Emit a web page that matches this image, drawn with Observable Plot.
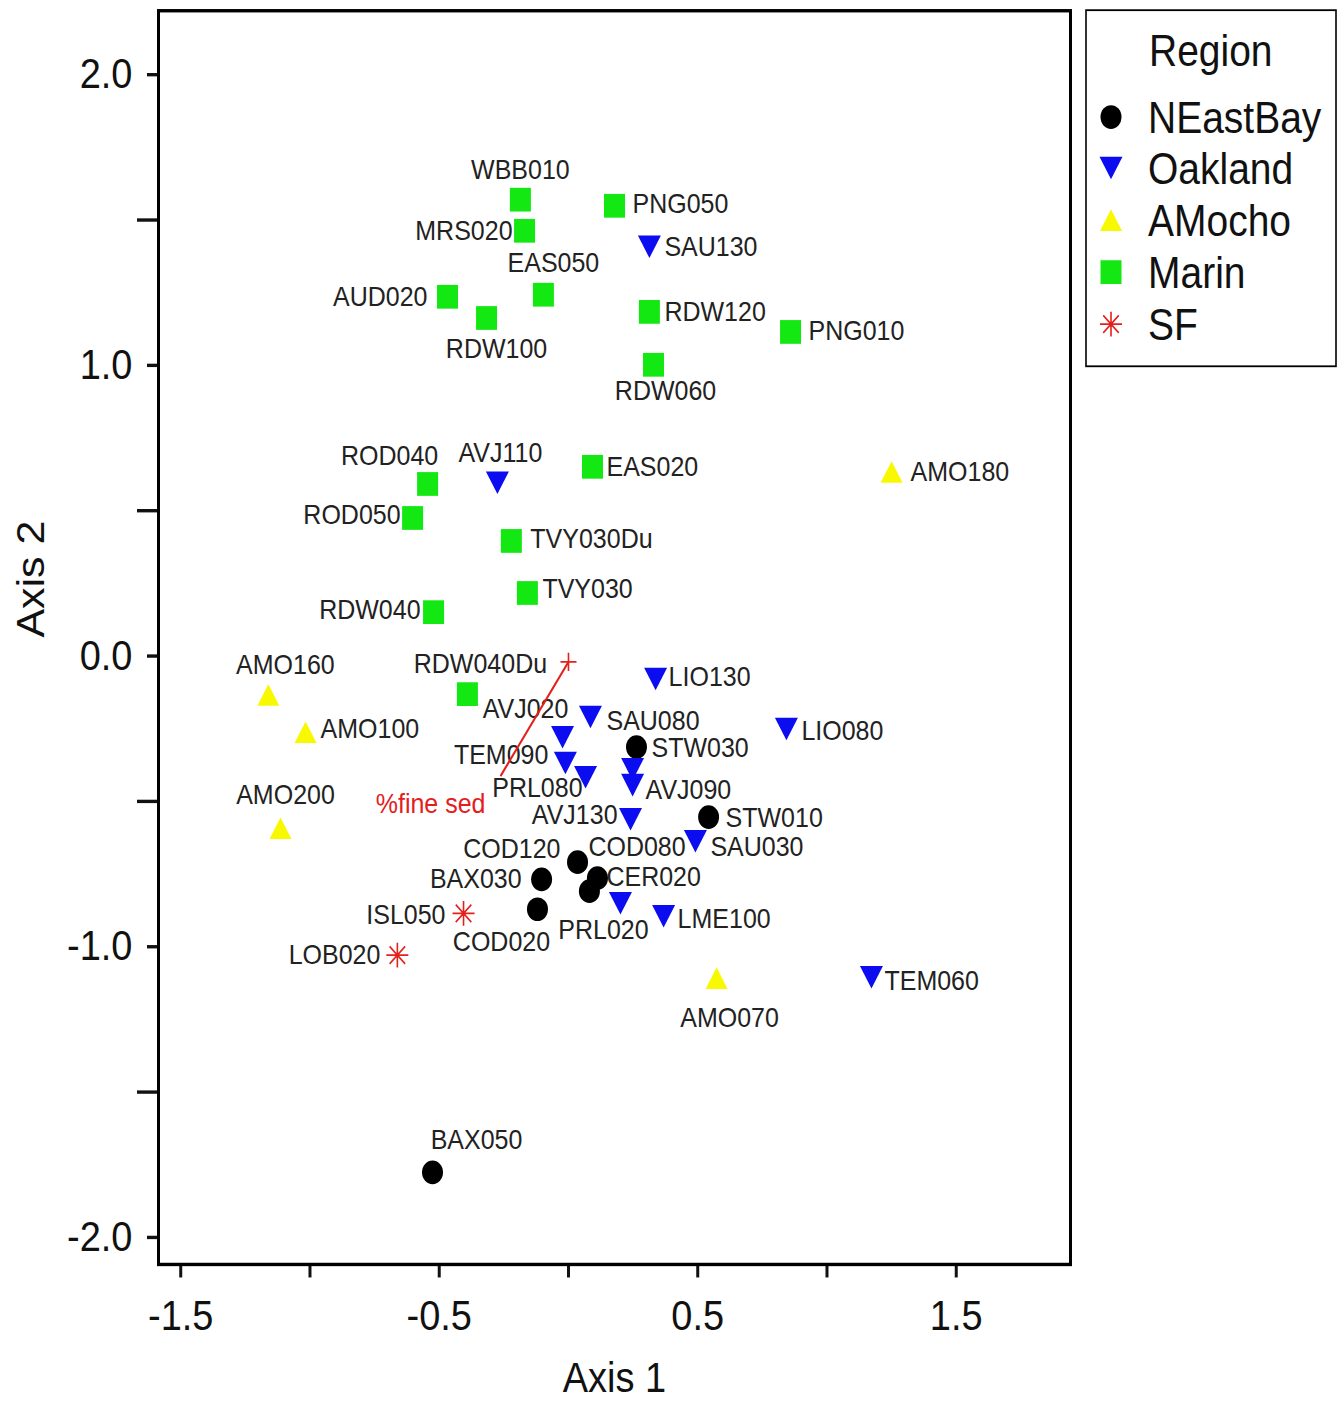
<!DOCTYPE html>
<html>
<head>
<meta charset="utf-8">
<script src="https://cdn.jsdelivr.net/npm/d3@7"></script>
<script src="https://cdn.jsdelivr.net/npm/@observablehq/plot@0.6"></script>
<style>
  html, body { margin: 0; padding: 0; background: #fff; }
  #page { position: relative; width: 1344px; height: 1404px; overflow: hidden; }
  #chart {
    position: absolute; left: 0; top: 0; width: 1344px; height: 1242px;
    transform: scaleY(1.1305); transform-origin: 0 0;
    font-family: "Liberation Sans", Arial, sans-serif;
  }
  #legend { position: absolute; left: 1085px; top: 8px; }
</style>
</head>
<body>
<div id="page"><div id="chart"></div></div>
<script>
// Ordination site scores (Axis 1, Axis 2), one set of arrays per region
const regions = ["NEastBay", "Oakland", "AMocho", "Marin", "SF"];

const neastbayNames = ["STW030", "STW010", "COD120", "COD080", "CER020", "BAX030", "COD020", "BAX050"];
const neastbayAxis1 = [0.263, 0.542, 0.035, 0.112, 0.081, -0.104, -0.120, -0.526];
const neastbayAxis2 = [-0.313, -0.554, -0.709, -0.764, -0.809, -0.768, -0.871, -1.776];

const oaklandNames = ["SAU130", "AVJ110", "LIO130", "LIO080", "SAU080", "AVJ020", "TEM090", "PRL080", "", "AVJ090", "AVJ130", "SAU030", "PRL020", "LME100", "TEM060"];
const oaklandAxis1 = [0.313, -0.275, 0.337, 0.843, 0.085, -0.023, -0.012, 0.066, 0.248, 0.248, 0.240, 0.491, 0.201, 0.368, 1.172];
const oaklandAxis2 = [1.408, 0.596, -0.079, -0.251, -0.210, -0.279, -0.368, -0.417, -0.389, -0.444, -0.561, -0.637, -0.850, -0.895, -1.105];

const amochoNames = ["AMO180", "AMO160", "AMO100", "AMO200", "AMO070"];
const amochoAxis1 = [1.250, -1.161, -1.017, -1.114, 0.573];
const amochoAxis2 = [0.633, -0.134, -0.262, -0.592, -1.108];

const marinNames = ["WBB010", "MRS020", "PNG050", "EAS050", "AUD020", "RDW100", "RDW120", "PNG010", "RDW060", "EAS020", "ROD040", "ROD050", "TVY030Du", "TVY030", "RDW040", "RDW040Du"];
const marinAxis1 = [-0.186, -0.170, 0.178, -0.097, -0.468, -0.317, 0.313, 0.859, 0.329, 0.093, -0.545, -0.603, -0.221, -0.159, -0.522, -0.391];
const marinAxis2 = [1.570, 1.463, 1.549, 1.243, 1.236, 1.163, 1.184, 1.115, 1.002, 0.651, 0.592, 0.475, 0.396, 0.217, 0.151, -0.131];

const sfNames = ["ISL050", "LOB020"];
const sfAxis1 = [-0.406, -0.662];
const sfAxis2 = [-0.885, -1.029];

// Environmental vector (biplot arrow) from the centroid
const vectorLabels = ["%fine sed"];
const vectorFrom1 = [0.0], vectorFrom2 = [-0.02];
const vectorTo1 = [-0.263], vectorTo2 = [-0.413];

// Axis ticks
const xTicksLabelled = [-1.5, -0.5, 0.5, 1.5];
const xTicksPlain = [-1, 0, 1];
const yTicksLabelled = [-2, -1, 0, 1, 2];
const yTicksPlain = [-1.5, -0.5, 0.5, 1.5];

// ---- presentation -------------------------------------------------------
// label placement around each marker: [text-anchor, dx, dy] in pixels
const labelPlacement = {
  WBB010: ["middle", 0, -26.5], MRS020: ["end", -12, 0], PNG050: ["start", 18, -2],
  EAS050: ["middle", 10, -28], AUD020: ["end", -20, 0], RDW100: ["middle", 10, 27],
  RDW120: ["start", 15, 0], PNG010: ["start", 18, -1], RDW060: ["middle", 12, 23],
  EAS020: ["start", 14, 0], ROD040: ["middle", -38, -25], ROD050: ["end", -12, -3],
  TVY030Du: ["start", 19, -2], TVY030: ["start", 15, -4], RDW040: ["end", -13, -2],
  RDW040Du: ["middle", 13, -27],
  SAU130: ["start", 15, 0], AVJ110: ["middle", 3, -26.5], LIO130: ["start", 13, -2],
  LIO080: ["start", 15, 2], SAU080: ["start", 16, 3], AVJ020: ["middle", -37, -25],
  TEM090: ["end", -17, -7], PRL080: ["end", -3, 9], AVJ090: ["start", 13, 4],
  AVJ130: ["end", -13, -4], SAU030: ["start", 15, 5], PRL020: ["middle", -17, 24],
  LME100: ["start", 14, 2], TEM060: ["start", 13, 3],
  AMO180: ["start", 19, 0], AMO160: ["middle", 17, -27], AMO100: ["start", 15, -3],
  AMO200: ["middle", 5, -29], AMO070: ["middle", 13, 35],
  STW030: ["start", 15, 1], STW010: ["start", 17, 1], COD120: ["end", -17, -11.5],
  COD080: ["start", -9, -28], CER020: ["start", 17, -13], BAX030: ["end", -20, 0],
  COD020: ["middle", -36, 29], BAX050: ["middle", 44, -29],
  ISL050: ["end", -18, 1], LOB020: ["end", -17, 0]
};

// custom marker shapes; r is the half-width of the marker
const rOf = size => Math.sqrt(size / Math.PI);
const squareSymbol = { draw(ctx, size) { const r = rOf(size); ctx.rect(-r, -r, 2 * r, 2 * r); } };
const triangleDown = { draw(ctx, size) {
  const r = rOf(size), h = r * Math.sqrt(3) / 2;
  ctx.moveTo(-r, -h); ctx.lineTo(r, -h); ctx.lineTo(0, h); ctx.closePath();
} };
const triangleUp = { draw(ctx, size) {
  const r = rOf(size), h = r * Math.sqrt(3) / 2;
  ctx.moveTo(0, -h); ctx.lineTo(r, h); ctx.lineTo(-r, h); ctx.closePath();
} };
const asterisk8 = { draw(ctx, size) {
  const r = rOf(size);
  for (let k = 0; k < 4; k++) {
    const a = k * Math.PI / 4, c = Math.cos(a) * r, s = Math.sin(a) * r;
    ctx.moveTo(c, s); ctx.lineTo(-c, -s);
  }
} };
const plusSymbol = { draw(ctx, size) {
  const r = rOf(size);
  ctx.moveTo(-r, 0); ctx.lineTo(r, 0); ctx.moveTo(0, -r); ctx.lineTo(0, r);
} };

const red = "#e3201c";
const regionStyle = {
  NEastBay: { symbol: "circle", r: 10.5, fill: "#000", stroke: "none" },
  Oakland: { symbol: triangleDown, r: 11.5, fill: "#0c0cf0", stroke: "none" },
  AMocho: { symbol: triangleUp, r: 11, fill: "#f8f800", stroke: "none" },
  Marin: { symbol: squareSymbol, r: 10.5, fill: "#13e813", stroke: "none" },
  SF: { symbol: asterisk8, r: 11, fill: "none", stroke: red, strokeWidth: 1.6 }
};

// ---- tables -------------------------------------------------------------
const rowsFor = (region, names, a1, a2) =>
  names.map((name, i) => ({ region, name, axis1: a1[i], axis2: a2[i] }));
const sites = [
  ...rowsFor("NEastBay", neastbayNames, neastbayAxis1, neastbayAxis2),
  ...rowsFor("Oakland", oaklandNames, oaklandAxis1, oaklandAxis2),
  ...rowsFor("AMocho", amochoNames, amochoAxis1, amochoAxis2),
  ...rowsFor("Marin", marinNames, marinAxis1, marinAxis2),
  ...rowsFor("SF", sfNames, sfAxis1, sfAxis2)
];
const vectors = vectorLabels.map((label, i) => ({
  label, x1: vectorFrom1[i], y1: vectorFrom2[i], x2: vectorTo1[i], y2: vectorTo2[i]
}));

const font = '"Liberation Sans", Arial, sans-serif';

const labelMarks = sites.filter(d => d.name).map(d => {
  const [anchor, dx, dy] = labelPlacement[d.name];
  return Plot.text([d], { x: "axis1", y: "axis2", text: "name", textAnchor: anchor, dx, dy, fontSize: 25, fill: "#222" });
});
const dotMarks = regions.map(reg =>
  Plot.dot(sites, { filter: d => d.region === reg, x: "axis1", y: "axis2", ...regionStyle[reg] })
);

const chart = Plot.plot({
  width: 1344,
  height: 1242,
  marginLeft: 158,
  marginRight: 274,
  marginTop: 9,
  marginBottom: 124,
  style: { fontFamily: font, background: "#fff", color: "#111" },
  x: { domain: [-1.586, 1.942], label: null },
  y: { domain: [-2.093, 2.220], label: null },
  marks: [
    Plot.axisX({ ticks: xTicksLabelled, tickSize: 12, tickPadding: 19, tickFormat: d => d.toFixed(1), fontSize: 38, strokeWidth: 3, label: null }),
    Plot.axisX({ ticks: xTicksPlain, tickSize: 12, tickFormat: () => "", strokeWidth: 3, label: null }),
    Plot.axisY({ ticks: yTicksLabelled, tickSize: 11, tickPadding: 15, tickFormat: d => d.toFixed(1), fontSize: 38, strokeWidth: 3, label: null }),
    Plot.axisY({ ticks: yTicksPlain, tickSize: 21, tickFormat: () => "", strokeWidth: 3, label: null }),
    Plot.text(["Axis 1"], { text: d => d, frameAnchor: "bottom", lineAnchor: "middle", dy: 101, fontSize: 38, fill: "#111" }),
    Plot.text(["Axis 2"], { text: d => d, frameAnchor: "left", dx: -127, rotate: -90, fontSize: 38, fill: "#111" }),
    ...labelMarks,
    ...dotMarks,
    Plot.link(vectors, { x1: "x1", y1: "y1", x2: "x2", y2: "y2", stroke: red, strokeWidth: 2 }),
    Plot.dot(vectors, { x: "x1", y: "y1", symbol: plusSymbol, r: 8, stroke: red, strokeWidth: 1.6, fill: "none" }),
    Plot.text(vectors, { x: "x2", y: "y2", text: "label", textAnchor: "end", dx: -15, dy: 25, fontSize: 25, fill: red }),
    Plot.frame({ stroke: "#000", strokeWidth: 3 })
  ]
});

const root = document.getElementById("chart");
root.append(chart);

// ---- legend box to the right of the plot ---------------------------------
const legend = d3.select(root).append("svg")
  .attr("id", "legend").attr("width", 254).attr("height", 318)
  .style("font-family", font);
legend.append("rect")
  .attr("x", 1).attr("y", 1).attr("width", 250).attr("height", 315)
  .attr("fill", "#fff").attr("stroke", "#000").attr("stroke-width", 1.6);
legend.append("text")
  .attr("x", 64).attr("y", 36 + 14).attr("font-size", 39).attr("fill", "#111")
  .text("Region");
const rowY = [95.5, 140.7, 186.7, 232.7, 278.7];
regions.forEach((reg, i) => {
  const st = regionStyle[reg];
  const sym = typeof st.symbol === "string" ? d3.symbolCircle : st.symbol;
  legend.append("path")
    .attr("transform", `translate(26,${rowY[i]})`)
    .attr("d", d3.symbol(sym, Math.PI * st.r * st.r)())
    .attr("fill", st.fill).attr("stroke", st.stroke)
    .attr("stroke-width", st.strokeWidth || 0);
  legend.append("text")
    .attr("x", 63).attr("y", rowY[i] + 14).attr("font-size", 39).attr("fill", "#111")
    .text(reg);
});
</script>
</body>
</html>
